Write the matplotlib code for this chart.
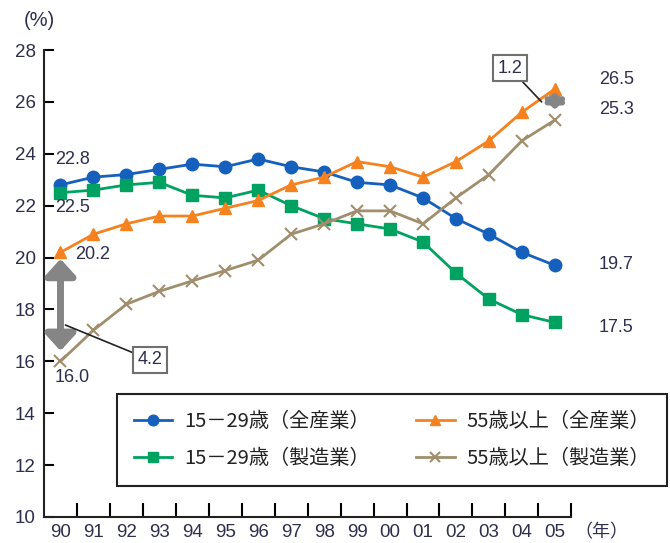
import matplotlib
matplotlib.use("Agg")
import matplotlib.pyplot as plt
from matplotlib.patches import ArrowStyle

plt.rcParams['font.family'] = ['Liberation Sans Narrow', 'Liberation Sans', 'DejaVu Sans']

years = ['90', '91', '92', '93', '94', '95', '96', '97', '98', '99',
         '00', '01', '02', '03', '04', '05']
young_all = [22.8, 23.1, 23.2, 23.4, 23.6, 23.5, 23.8, 23.5, 23.3, 22.9,
             22.8, 22.3, 21.5, 20.9, 20.2, 19.7]
young_mfg = [22.5, 22.6, 22.8, 22.9, 22.4, 22.3, 22.6, 22.0, 21.5, 21.3,
             21.1, 20.6, 19.4, 18.4, 17.8, 17.5]
old_all = [20.2, 20.9, 21.3, 21.6, 21.6, 21.9, 22.2, 22.8, 23.1, 23.7,
           23.5, 23.1, 23.7, 24.5, 25.6, 26.5]
old_mfg = [16.0, 17.2, 18.2, 18.7, 19.1, 19.5, 19.9, 20.9, 21.3, 21.8,
           21.8, 21.3, 22.3, 23.2, 24.5, 25.3]
labels = ['15－29歳（全産業）', '15－29歳（製造業）', '55歳以上（全産業）', '55歳以上（製造業）']
yticks = [10, 12, 14, 16, 18, 20, 22, 24, 26, 28]

txt = '#2e2e4e'
blue = '#1560bd'
green = '#00a261'
orange = '#f5821f'
khaki = '#a08e6c'

fig = plt.figure(figsize=(6.7, 5.43), dpi=100)
ax = fig.add_axes([0.0657, 0.0479, 0.787, 0.860])
x = list(range(len(years)))

l1, = ax.plot(x, young_all, color=blue, lw=2, marker='o', ms=9, label=labels[0])
l2, = ax.plot(x, young_mfg, color=green, lw=2, marker='s', ms=8.5, label=labels[1])
l3, = ax.plot(x, old_all, color=orange, lw=2, marker='^', ms=9, label=labels[2])
l4, = ax.plot(x, old_mfg, color=khaki, lw=2, marker='x', ms=8, mew=1.5, label=labels[3])

ax.set_xlim(-0.5, 15.5)
ax.set_ylim(10, 28)
for s in ['top', 'right']:
    ax.spines[s].set_visible(False)
for s in ['left', 'bottom']:
    ax.spines[s].set_linewidth(1.5)
    ax.spines[s].set_color('#222222')

ax.set_yticks(yticks)
ax.tick_params(axis='y', direction='in', length=7, width=1.5, labelsize=13.5,
               labelcolor=txt, pad=6)
ax.set_xticks([i + 0.5 for i in range(16)])
ax.set_xticklabels([])
ax.tick_params(axis='x', which='major', direction='in', length=10, width=1.5)
ax.set_xticks(x, minor=True)
ax.set_xticklabels(years, minor=True)
ax.tick_params(axis='x', which='minor', length=0, labelsize=13.5, labelcolor=txt, pad=5)

fig.text(0.036, 0.962, '(%)', fontsize=14.5, color=txt, va='center',
         family=['Liberation Sans', 'DejaVu Sans'])
fig.text(0.858, 0.02, '（年）', fontsize=13, color=txt, va='center',
         family=['Noto Sans CJK JP', 'DejaVu Sans'])

# value labels
fs = 13
ax.text(-0.17, 23.78, '22.8', fontsize=fs, color=txt, va='center')
ax.text(-0.17, 21.93, '22.5', fontsize=fs, color=txt, va='center')
ax.text(0.44, 20.1, '20.2', fontsize=fs, color=txt, va='center')
ax.text(-0.17, 15.37, '16.0', fontsize=fs, color=txt, va='center')
ax.text(16.34, 26.87, '26.5', fontsize=fs, color=txt, va='center', clip_on=False)
ax.text(16.34, 25.7, '25.3', fontsize=fs, color=txt, va='center', clip_on=False)
ax.text(16.34, 19.73, '19.7', fontsize=fs, color=txt, va='center', clip_on=False)
ax.text(16.34, 17.3, '17.5', fontsize=fs, color=txt, va='center', clip_on=False)

# gap arrows
big = ArrowStyle('<|-|>', head_length=0.55, head_width=0.5)
ax.annotate('', xy=(0, 19.95), xytext=(0, 16.4),
            arrowprops=dict(arrowstyle=big, color='#858585', lw=5, mutation_scale=18,
                            shrinkA=0, shrinkB=0))
ax.annotate('', xy=(15, 26.37), xytext=(15, 25.71),
            arrowprops=dict(arrowstyle=ArrowStyle('<|-|>', head_length=0.4, head_width=0.45),
                            color='#858585', lw=4, mutation_scale=12, shrinkA=0, shrinkB=0))

box = dict(boxstyle='square,pad=0.25', fc='white', ec='#707070', lw=1.5)
ax.annotate('4.2', xy=(0.15, 17.4), xytext=(2.72, 16.06), fontsize=fs, color=txt,
            ha='center', va='center', bbox=box,
            arrowprops=dict(arrowstyle='-', color='#222222', lw=1.2, shrinkA=0, shrinkB=0))
ax.annotate('1.2', xy=(14.6, 26.0), xytext=(13.63, 27.3), fontsize=fs, color=txt,
            ha='center', va='center', bbox=box,
            arrowprops=dict(arrowstyle='-', color='#222222', lw=1.2, shrinkA=0, shrinkB=0))

leg = ax.legend(handles=[l1, l2, l3, l4], ncol=2, loc='upper left',
                bbox_to_anchor=(0.1385, 0.058, 1.0436, 0.206), mode='expand',
                fancybox=False, edgecolor='#222222', framealpha=1,
                prop={'family': ['Noto Sans CJK JP', 'DejaVu Sans'], 'size': 14.5},
                handlelength=1.9, handletextpad=0.6, borderpad=0.85, labelspacing=0.8,
                markerscale=0.85, borderaxespad=0)
leg.get_frame().set_linewidth(1.5)
for t in leg.get_texts():
    t.set_color('#222222')

fig.savefig('out.png', dpi=100)
